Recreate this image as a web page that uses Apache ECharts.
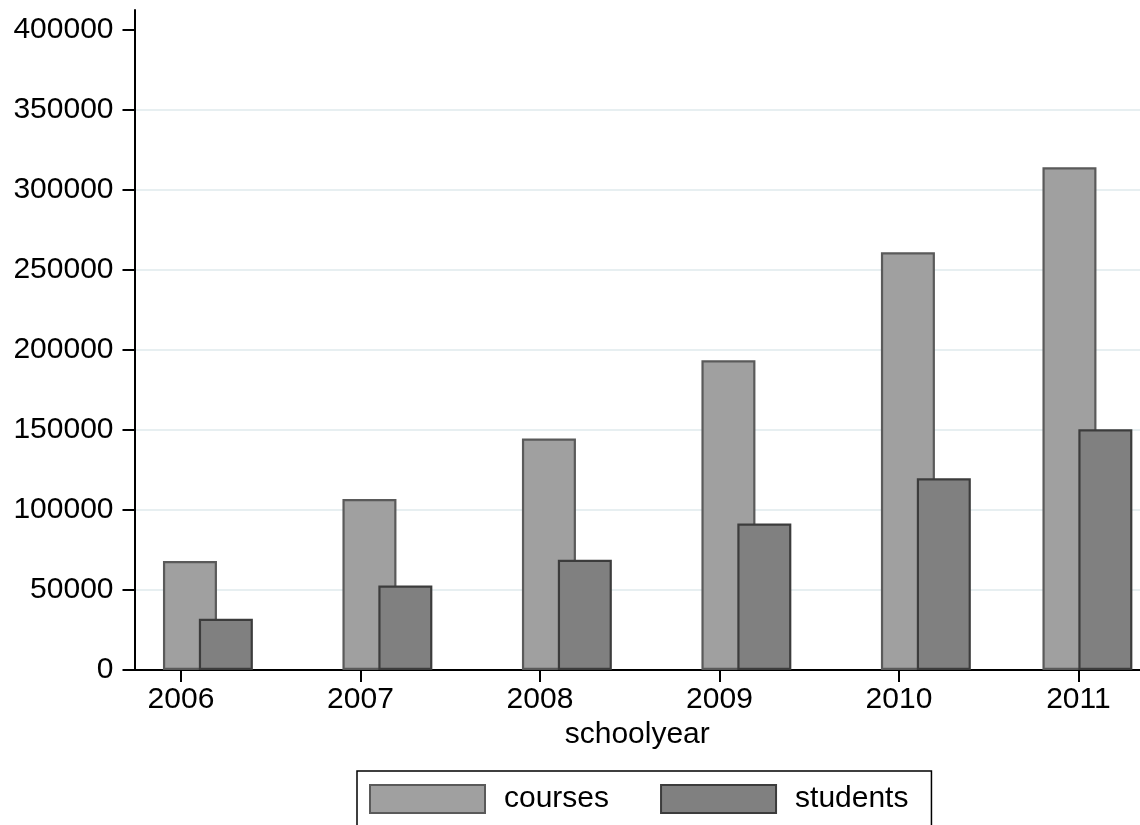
<!DOCTYPE html>
<html>
<head>
<meta charset="utf-8">
<script src="https://cdn.jsdelivr.net/npm/echarts@6/dist/echarts.min.js"></script>
<style>
html,body{margin:0;padding:0;background:#fff;}
#chart{width:1140px;height:825px;}
</style>
</head>
<body>
<div id="chart"></div>
<script>
// Data
const years = [2006, 2007, 2008, 2009, 2010, 2011];
const coursesX = [2006.05, 2007.05, 2008.05, 2009.05, 2010.05, 2010.95];
const studentsX = [2006.25, 2007.25, 2008.25, 2009.25, 2010.25, 2011.15];
const courses = [68000, 106800, 144600, 193400, 260900, 314000];
const students = [32000, 52800, 68900, 91500, 119800, 150400];
const yTicks = [0, 50000, 100000, 150000, 200000, 250000, 300000, 350000, 400000];

const FONT = "'Liberation Sans', Arial, Helvetica, sans-serif";
const chart = echarts.init(document.getElementById('chart'), null, {renderer: 'canvas'});

const gridColors = yTicks.map(v => (v === 0 || v === 400000) ? 'rgba(0,0,0,0)' : '#e7eff1');
gridColors.push('rgba(0,0,0,0)');

chart.setOption({
  backgroundColor: '#ffffff',
  animation: false,
  grid: {left: 134.5, right: 0, top: 10, bottom: 155, containLabel: false},
  xAxis: {
    type: 'value',
    min: 2005.741,
    max: 2011.343,
    name: 'schoolyear',
    nameLocation: 'middle',
    nameGap: 40,
    nameTextStyle: {fontFamily: FONT, fontSize: 30, color: '#000'},
    axisLine: {show: true, onZero: false, lineStyle: {color: '#000', width: 2}},
    axisTick: {show: true, inside: false, length: 12, customValues: years, lineStyle: {color: '#000', width: 2}},
    axisLabel: {show: true, customValues: years, margin: 15, fontFamily: FONT, fontSize: 30, color: '#000',
      formatter: v => String(Math.round(v))},
    splitLine: {show: false}
  },
  yAxis: {
    type: 'value',
    min: 0,
    max: 412200,
    interval: 50000,
    axisLine: {show: true, lineStyle: {color: '#000', width: 2}},
    axisTick: {show: true, inside: false, length: 12, customValues: yTicks, lineStyle: {color: '#000', width: 2}},
    axisLabel: {show: true, customValues: yTicks, margin: 21, fontFamily: FONT, fontSize: 30, color: '#000',
      formatter: v => String(v)},
    splitLine: {show: true, lineStyle: {color: gridColors, width: 2}}
  },
  legend: {
    show: true,
    left: 357,
    top: 771,
    orient: 'horizontal',
    padding: [13, 23, 13, 12],
    borderColor: '#000',
    borderWidth: 1.5,
    itemWidth: 115,
    itemHeight: 28,
    itemGap: 51,
    icon: 'rect',
    textStyle: {fontFamily: FONT, fontSize: 30, color: '#000', padding: [0, 0, 0, 14]},
    data: ['courses', 'students']
  },
  series: [
    {
      name: 'courses',
      type: 'bar',
      barWidth: 54,
      barGap: '-100%',
      data: coursesX.map((x, i) => [x, courses[i]]),
      itemStyle: {color: '#a0a0a0', borderColor: '#5a5a5a', borderWidth: 2.2}
    },
    {
      name: 'students',
      type: 'bar',
      barWidth: 54,
      barGap: '-100%',
      data: studentsX.map((x, i) => [x, students[i]]),
      itemStyle: {color: '#808080', borderColor: '#3c3c3c', borderWidth: 2.2}
    }
  ]
});
</script>
</body>
</html>
